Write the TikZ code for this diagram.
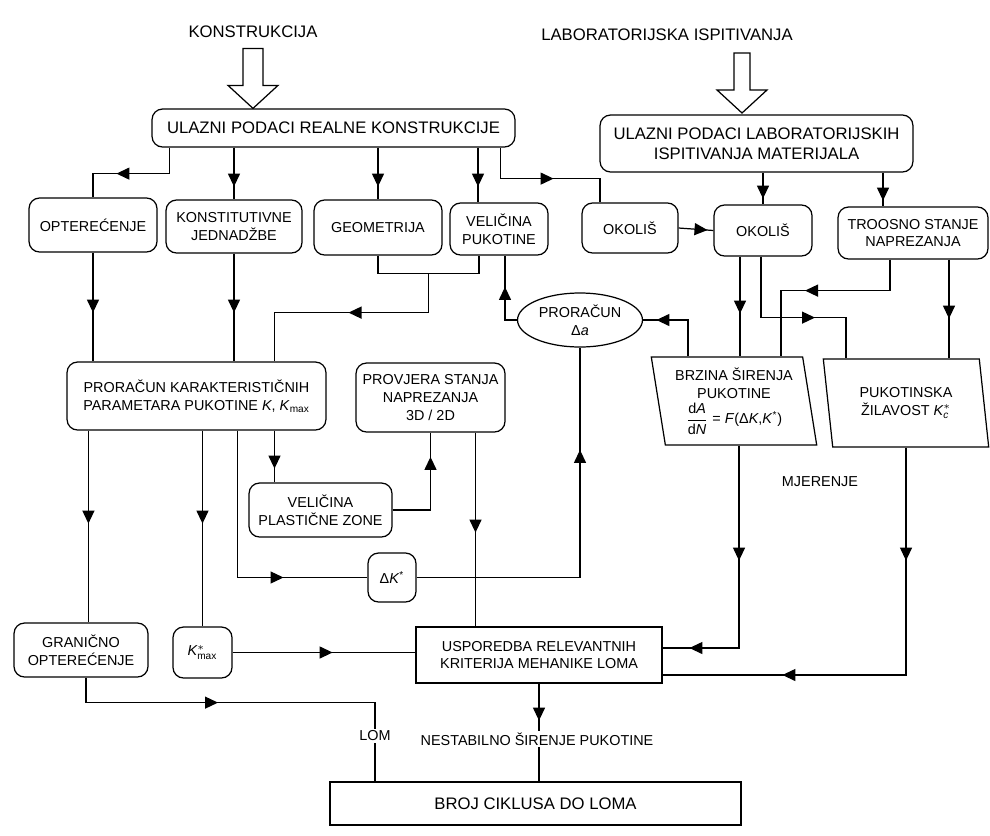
\documentclass[tikz,border=0pt]{standalone}
\usepackage{amsmath}
\usepackage{fontspec}
\setmainfont{Liberation Sans}
\usetikzlibrary{shapes.geometric, arrows.meta, positioning, calc, decorations.markings}

\begin{document}
\begin{tikzpicture}[
  x=0.02cm, y=-0.02cm,
  font=\fontsize{8.2}{10.2}\selectfont,
  line/.style={line width=0.7pt},
  box/.style={rectangle, rounded corners=6pt, draw, line width=0.7pt,
              align=center, inner sep=1pt},
  bigbox/.style={box, font=\fontsize{9.5}{11.4}\selectfont},
  plainbox/.style={rectangle, draw, line width=0.7pt, align=center, inner sep=1pt},
  slant/.style={trapezium, trapezium left angle=100, trapezium right angle=80,
              trapezium stretches=true, draw, line width=0.7pt, align=center,
              inner sep=1pt, minimum width=3.32cm, minimum height=1.76cm},
  oval/.style={ellipse, draw, line width=0.7pt, align=center, inner sep=0pt,
              minimum width=2.5cm, minimum height=1.08cm},
  title/.style={font=\fontsize{9.5}{11.4}\selectfont},
  lbl/.style={inner sep=1pt},
  hollow/.style={line width=0.7pt, fill=white, line join=miter},
  tipat/.style={postaction={decorate, decoration={markings,
              mark=at position #1*0.02cm with {\arrow{Triangle[length=2.6mm, width=2.4mm]}}}}}
]
\useasboundingbox (0,0) rectangle (990,835);

% ── Sources ──
\node[title] (konst) at (253,32) {KONSTRUKCIJA};
\node[title] (lab)   at (667,35) {LABORATORIJSKA ISPITIVANJA};

\node[bigbox, minimum width=7.26cm, minimum height=0.76cm] (realin) at (333.5,128)
  {ULAZNI PODACI REALNE KONSTRUKCIJE};
\node[bigbox, minimum width=6.26cm, minimum height=1.14cm] (labin) at (756.5,143.5)
  {ULAZNI PODACI LABORATORIJSKIH\\ISPITIVANJA MATERIJALA};

% ── Hollow input arrows ──
\coordinate (ktip) at (konst.south |- realin.north);
\coordinate (ltip) at (742,113);
\draw[hollow] ($(ktip)+(-10,-60)$) -- ($(ktip)+(10,-60)$) -- ($(ktip)+(10,-23)$)
  -- ($(ktip)+(25,-23)$) -- (ktip) -- ($(ktip)+(-25,-23)$) -- ($(ktip)+(-10,-23)$) -- cycle;
\draw[hollow] ($(ltip)+(-8,-60)$) -- ($(ltip)+(8,-60)$) -- ($(ltip)+(8,-23)$)
  -- ($(ltip)+(25,-23)$) -- (ltip) -- ($(ltip)+(-25,-23)$) -- ($(ltip)+(-8,-23)$) -- cycle;

% ── Second row ──
\node[box, minimum width=2.56cm, minimum height=1.08cm] (opt)    at (93,225)    {OPTEREĆENJE};
\node[box, minimum width=2.72cm, minimum height=1.06cm] (jed)    at (234,226.5) {KONSTITUTIVNE\\JEDNADŽBE};
\node[box, minimum width=2.56cm, minimum height=1.10cm] (geo)    at (378,227.5) {GEOMETRIJA};
\node[box, minimum width=1.96cm, minimum height=1.04cm] (velpuk) at (499,229)   {VELIČINA\\PUKOTINE};
\node[box, minimum width=1.92cm, minimum height=1.00cm] (okol1)  at (630,228)   {OKOLIŠ};
\node[box, minimum width=1.96cm, minimum height=1.02cm] (okol2)  at (763,230.5) {OKOLIŠ};
\node[box, minimum width=3.00cm, minimum height=1.04cm] (troos)  at (913,233)   {TROOSNO STANJE\\NAPREZANJA};

% ── Middle ──
\node[box, minimum width=5.18cm, minimum height=1.36cm] (prkar) at (196.5,396)
  {PRORAČUN KARAKTERISTIČNIH\\PARAMETARA PUKOTINE \textit{K}, \textit{K}\textsubscript{max}};
\node[box, minimum width=2.98cm, minimum height=1.38cm] (provj) at (430.5,397.5)
  {PROVJERA STANJA\\NAPREZANJA\\3D / 2D};
\node[oval] (da) at (580,320) {PRORAČUN\\Δ\textit{a}};
\node[slant] (brz) at (734,401)
  {BRZINA ŠIRENJA\\PUKOTINE\\[2pt]$\dfrac{\text{d}\textit{A}}{\text{d}\textit{N}}$ = \textit{F}(Δ\textit{K},\textit{K}\textsuperscript{*})};
\node[slant] (pukz) at (906,403) {PUKOTINSKA\\ŽILAVOST $\textit{K}^{*}_{\textit{c}}$};
\node[box, minimum width=2.86cm, minimum height=1.08cm] (plast) at (320.5,510)
  {VELIČINA\\PLASTIČNE ZONE};
\node[box, minimum width=0.96cm, minimum height=0.98cm] (dK) at (392,577.5)
  {Δ\textit{K}\textsuperscript{*}};
\node[lbl] (mjer) at (820,482) {MJERENJE};

% ── Bottom ──
\node[box, minimum width=2.68cm, minimum height=1.08cm] (gran) at (81,650)
  {GRANIČNO\\OPTEREĆENJE};
\node[box, minimum width=1.18cm, minimum height=1.02cm] (kmax) at (202.5,652.5)
  {$\textit{K}^{*}_{\text{max}}$};
\node[plainbox, minimum width=4.92cm, minimum height=1.12cm] (uspor) at (539,655)
  {USPOREDBA RELEVANTNIH\\KRITERIJA MEHANIKE LOMA};
\node[lbl] (lom)    at (375,736) {LOM};
\node[lbl] (nestab) at (537,739) {NESTABILNO ŠIRENJE PUKOTINE};
\node[plainbox, font=\fontsize{9.5}{11.4}\selectfont,
      minimum width=8.22cm, minimum height=0.86cm] (broj) at (535.5,803.5)
  {BROJ CIKLUSA DO LOMA};

% ── Attachment points ──
\coordinate (vpin) at ($(velpuk.north)+(-21,0)$);
\coordinate (vpa)  at ($(velpuk.south)+(-20,0)$);
\coordinate (vpb)  at ($(velpuk.south)+(6,0)$);
\coordinate (join) at ($(geo.south)!0.5!(vpa)+(0,18)$);
\coordinate (pkin) at ($(prkar.north)+(78,0)$);
\coordinate (tin)  at ($(troos.north)+(-30,0)$);
\coordinate (tra)  at ($(troos.south)+(-23,0)$);
\coordinate (trb)  at ($(troos.south)+(36,0)$);
\coordinate (oka)  at ($(okol2.south)+(-23,0)$);
\coordinate (okb)  at ($(okol2.south)+(-2,0)$);
\coordinate (brc)  at ($(brz.north)+(47,0)$);
\coordinate (brb)  at ($(brz.south)+(5,0)$);
\coordinate (pka)  at ($(pukz.north)+(-60,0)$);
\coordinate (pka1) at ($(prkar.south west)+(22,0)$);
\coordinate (pkb)  at ($(prkar.south west)+(171,0)$);
\coordinate (plin) at (pkin |- plast.north);
\coordinate (pvout) at ($(provj.south)+(45,0)$);

% ── Arrows from the input boxes ──
\draw[line, tipat=79] ($(realin.south west)+(18,0)$) -- ++(0,26) -| (opt.north);
\draw[line, tipat=39] (realin.south -| jed.north) -- (jed.north);
\draw[line, tipat=39] (realin.south -| geo.north) -- (geo.north);
\draw[line, tipat=39] (realin.south -| vpin) -- (vpin);
\draw[line, tipat=84] ($(realin.south east)+(-15,0)$) -- ++(0,31) -| ($(okol1.north)+(-30,0)$);
\draw[line, tipat=26] (labin.south -| okol2.north) -- (okol2.north);
\draw[line, tipat=28] (labin.south -| tin) -- (tin);
\draw[line, tipat=29] (okol1.east) -- (okol2.west);

% ── Second row down ──
\draw[line, tipat=60] (opt.south) -- (opt.south |- prkar.north);
\draw[line, tipat=59] (jed.south) -- (jed.south |- prkar.north);
\draw[line] (geo.south) -- ++(0,18) -| (vpa);
\draw[line, tipat=119] (join) -- ++(0,39) -| (pkin);

% ── Crack growth loop ──
\draw[line, tipat=45] (da.west) -| (vpb);
\draw[line, tipat=68] ($(brz.north)+(-46,0)$) |- (da.east);
\draw[line, tipat=57] (oka) -- (oka |- brz.north);
\draw[line, tipat=115] (okb) -- ++(0,61) -| (pka);
\draw[line, tipat=116] (tra) -- ++(0,31) -| (brc);
\draw[line, tipat=59] (trb) -- (trb |- pukz.north);
\draw[line, tipat=291] (dK.east) -| (da.south);

% ── Into the comparison ──
\draw[line, tipat=115, tipat=252] (brb) |- ($(uspor.east)+(0,-7)$);
\draw[line, tipat=113, tipat=351] (pukz.south) |- ($(uspor.east)+(0,20)$);
\draw[line, tipat=93] (pka1) -- (pka1 |- gran.north);
\draw[line, tipat=93] (prkar.south -| kmax.north) -- (kmax.north);
\draw[line, tipat=193] (pkb) |- (dK.west);
\draw[line, tipat=38] (prkar.south -| plin) -- (plin);
\draw[line, tipat=91] (plast.east) -| (provj.south);
\draw[line, tipat=100] (pvout) -- (pvout |- uspor.north);
\draw[line, tipat=100] (kmax.east) -- (kmax.east -| uspor.west);

% ── Results ──
\draw[line, tipat=157] ($(gran.south)+(5,0)$) -- ++(0,25) -| (lom.north);
\draw[line] (lom.south) -- (lom.south |- broj.north);
\draw[line, tipat=37] (uspor.south) -- (uspor.south |- nestab.north);
\draw[line] (uspor.south |- nestab.south) -- (uspor.south |- broj.north);

\end{tikzpicture}
\end{document}
